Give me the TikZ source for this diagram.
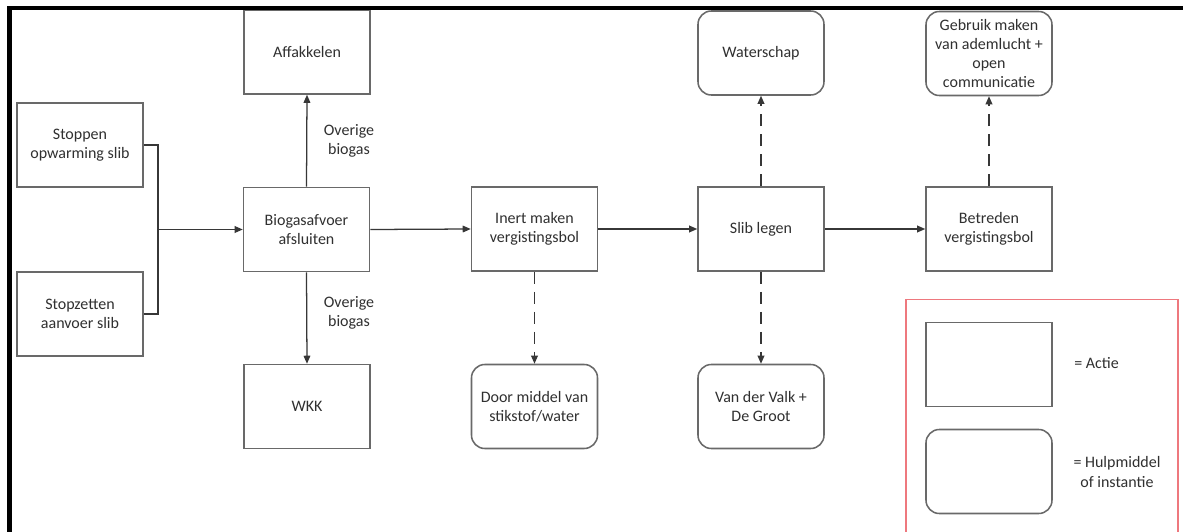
\documentclass[tikz,border=0pt]{standalone}
\usepackage{fontspec}
\setmainfont{Carlito}
\usetikzlibrary{arrows.meta}
\definecolor{boxgray}{RGB}{105,105,105}
\definecolor{linegray}{RGB}{55,55,55}
\definecolor{txtgray}{RGB}{48,48,48}
\definecolor{legred}{RGB}{238,120,126}
\begin{document}
\begin{tikzpicture}[x=0.75pt,y=-0.75pt,
  every node/.style={font=\fontsize{12}{14.4}\selectfont, text=txtgray, align=center},
  actbox/.style={draw=boxgray, line width=1.15pt, minimum width=94.5pt, minimum height=63pt, inner sep=2pt},
  hulpbox/.style={actbox, rounded corners=10pt},
  conn/.style={draw=linegray, line width=0.95pt},
  arr/.style={conn, -{Triangle[length=6pt,width=5pt]}},
  darr/.style={arr, dash pattern=on 9pt off 6pt},
  lbl/.style={inner sep=0pt}]
\useasboundingbox (0,0) rectangle (1183,532);
\fill[white] (0,0) rectangle (1183,532);

% main action boxes
\node[actbox] (stop1) at (80,145) {Stoppen\\opwarming slib};
\node[actbox] (stop2) at (80,314) {Stopzetten\\aanvoer slib};
\node[actbox] (bio) at (306.5,229.5) {Biogasafvoer\\afsluiten};
\node[actbox] (aff) at (307,52) {Affakkelen};
\node[actbox] (wkk) at (307,406.5) {WKK};
\node[actbox] (inert) at (534.5,229) {Inert maken\\vergistingsbol};
\node[actbox] (slib) at (761,229) {Slib legen};
\node[actbox] (betr) at (989,229) {Betreden\\vergistingsbol};

% helper boxes
\node[hulpbox] (door) at (534.5,406.5) {Door middel van\\stikstof/water};
\node[hulpbox] (water) at (761,53) {Waterschap};
\node[hulpbox] (valk) at (761,406.5) {Van der Valk +\\De Groot};
\node[hulpbox] (gebr) at (989,53.5) {Gebruik maken\\van ademlucht +\\open\\communicatie};

% connectors
\coordinate (j) at (158,229.5);
\draw[conn] (stop1.east) -| (j);
\draw[conn] (stop2.east) -| (j);
\draw[arr] (j) -- (bio.west);
\draw[arr] (bio.north) -- (aff.south);
\draw[arr] (bio.south) -- (wkk.north);
\draw[arr] (bio.east) -- (inert.west);
\draw[arr] (inert.east) -- (slib.west);
\draw[arr] (slib.east) -- (betr.west);
\draw[darr] (inert.south) -- (door.north);
\draw[darr] (slib.north) -- (water.south);
\draw[darr] (slib.south) -- (valk.north);
\draw[darr] (betr.north) -- (gebr.south);

\node[lbl] (ov1) at (349,141) {Overige\\biogas};
\node[lbl] (ov2) at (349,313) {Overige\\biogas};

% legend
\draw[draw=legred, line width=0.9pt] (906,532) -- (906,299.5) -- (1178,299.5) -- (1178,532);
\node[actbox] (leg1) at (989,364.5) {};
\node[hulpbox] (leg2) at (989,471.5) {};
\node[lbl] (legt1) at (1096.5,363.5) {= Actie};
\node[lbl] (legt2) at (1117,472) {= Hulpmiddel\\of instantie};

% black frame edge
\draw[black, line width=3.2pt] (9.5,532) -- (9.5,8.3) -- (1183,8.3);
\end{tikzpicture}
\end{document}
